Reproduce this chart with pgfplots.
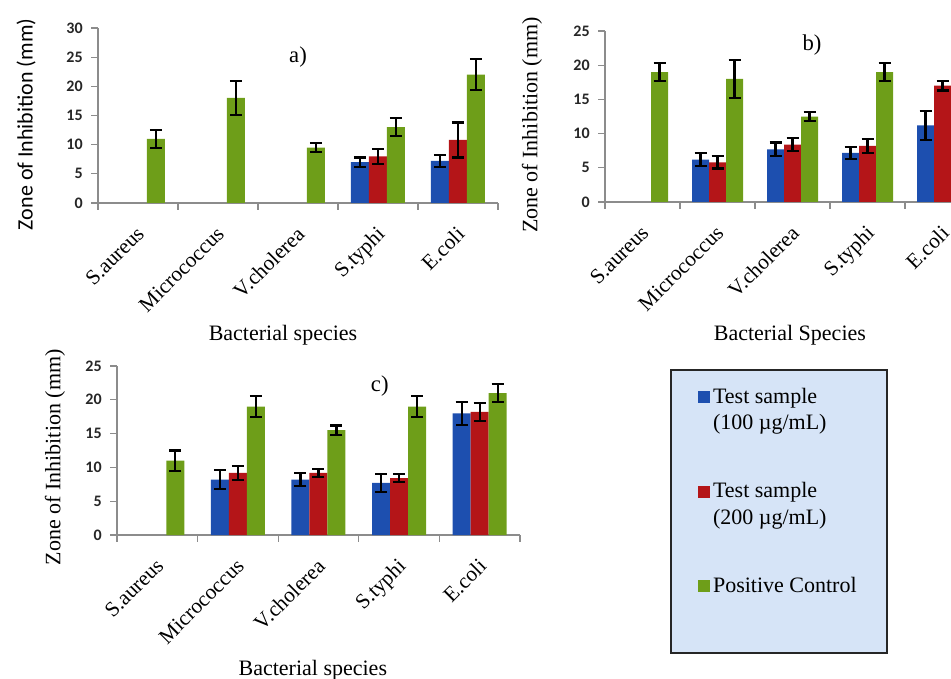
\documentclass[border=0pt]{standalone}
\usepackage{fontspec}
\setmainfont{Liberation Serif}
\newfontfamily\calibri{Carlito}
\usepackage{pgfplots}
\pgfplotsset{compat=1.18}
\definecolor{cblue}{HTML}{1D4FAF}
\definecolor{cred}{HTML}{B41518}
\definecolor{cgreen}{HTML}{6E9E19}
\definecolor{legbg}{HTML}{D6E4F7}
\definecolor{axgray}{HTML}{8C8C8C}
\pgfplotsset{
  ybar legend/.style={/pgfplots/legend image code/.code={\fill[##1] (0pt,0pt) rectangle (9pt,9pt);}},
  zoi/.style={
    scale only axis,
    ybar=0pt,
    ymin=0,
    xmin=-0.5, xmax=4.5,
    axis lines*=left,
    axis line style={draw=axgray, line width=0.9pt},
    tick align=outside,
    tick style={draw=axgray, line width=0.9pt},
    major tick length=5pt,
    xtick={-0.5,0.5,...,4.5},
    xticklabels={},
    extra x ticks={0,1,2,3,4},
    extra x tick labels={S.aureus,Micrococcus,V.cholerea,S.typhi,E.coli},
    extra x tick style={major tick length=0pt, tick style={draw=none}},
    xticklabel style={yshift=-15pt, xshift=-2pt, rotate=45, anchor=north east, font=\fontsize{16}{18}\selectfont, inner sep=1pt},
    yticklabel style={font=\calibri\bfseries\fontsize{12}{14}\selectfont, text=black!85, xshift=-3pt},
    /pgf/number format/assume math mode=true,
    label style={font=\fontsize{16.5}{19}\selectfont},
    clip=false,
  },
  eb/.style={error bars/.cd, y dir=both, y explicit,
    error bar style={black, line width=1.6pt},
    error mark options={rotate=90, black, mark size=4.5pt, line width=1.6pt}},
}
\begin{document}
\begin{tikzpicture}
\clip (0,0) rectangle (713.25pt,509.25pt);
% ---------------- a)
\begin{axis}[zoi, at={(73.5pt,357pt)}, anchor=south west,
  width=300pt, height=131.25pt, ymax=30, ytick={0,5,...,30}, bar width=13.5pt,
  xlabel={Bacterial species}, ylabel={Zone of Inhibition (mm)},
  xlabel style={at={(axis description cs:0.4625,-0.755)}, anchor=center},
  ylabel style={at={(axis description cs:-0.18,0.45)}, anchor=center, font=\calibri\fontsize{16.5}{19}\selectfont}]
\addplot[fill=cblue, draw=none, eb] coordinates {(3,7) +- (0,0.8) (4,7.2) +- (0,1)};
\addplot[fill=cred, draw=none, eb] coordinates {(3,8) +- (0,1.3) (4,10.8) +- (0,3)};
\addplot[fill=cgreen, draw=none, eb] coordinates {(0,11) +- (0,1.5) (1,18) +- (0,2.9) (2,9.5) +- (0,0.8) (3,13) +- (0,1.5) (4,22) +- (0,2.7)};
\node[font=\fontsize{17}{20}\selectfont] at (axis cs:2,25) {a)};
\end{axis}
% ---------------- b)
\begin{axis}[zoi, at={(453.75pt,357.75pt)}, anchor=south west,
  width=281.25pt, height=128.25pt, ymax=25, ytick={0,5,...,25}, bar width=12.75pt,
  xlabel={Bacterial Species}, ylabel={Zone of Inhibition (mm)},
  xlabel style={at={(axis description cs:0.493,-0.78)}, anchor=center},
  ylabel style={at={(axis description cs:-0.195,0.45)}, anchor=center}]
\addplot[fill=cblue, draw=none, eb] coordinates {(1,6.2) +- (0,1) (2,7.7) +- (0,1) (3,7.2) +- (0,0.9) (4,11.2) +- (0,2.1)};
\addplot[fill=cred, draw=none, eb] coordinates {(1,5.8) +- (0,0.9) (2,8.4) +- (0,1) (3,8.2) +- (0,1) (4,17) +- (0,0.7)};
\addplot[fill=cgreen, draw=none, eb] coordinates {(0,19) +- (0,1.3) (1,18) +- (0,2.8) (2,12.5) +- (0,0.7) (3,19) +- (0,1.3) (4,19) +- (0,1.5)};
\node[font=\fontsize{17}{20}\selectfont] at (axis cs:2.26,23) {b)};
\end{axis}
% ---------------- legend box
\filldraw[fill=legbg, draw=black!85, line width=1.2pt] (503.25pt,19.5pt) rectangle (665.25pt,231.75pt);
% ---------------- c)
\begin{axis}[zoi, at={(87.75pt,108pt)}, anchor=south west,
  width=302.25pt, height=126.75pt, ymax=25, ytick={0,5,...,25}, bar width=13.5pt,
  xlabel={Bacterial species}, ylabel={Zone of Inhibition (mm)},
  xlabel style={at={(axis description cs:0.486,-0.80)}, anchor=center},
  ylabel style={at={(axis description cs:-0.154,0.46)}, anchor=center},
  legend style={at={(1.442,0.888)}, anchor=north west, draw=none, fill=none,
    font=\fontsize{16.5}{20}\selectfont, cells={anchor=base west}, row sep=54pt, inner sep=0pt}]
\addplot[fill=cblue, draw=none, eb] coordinates {(1,8.2) +- (0,1.4) (2,8.2) +- (0,1) (3,7.7) +- (0,1.3) (4,18) +- (0,1.7)};
\addplot[fill=cred, draw=none, eb] coordinates {(1,9.2) +- (0,1) (2,9.2) +- (0,0.6) (3,8.4) +- (0,0.6) (4,18.2) +- (0,1.3)};
\addplot[fill=cgreen, draw=none, eb] coordinates {(0,11) +- (0,1.5) (1,19) +- (0,1.5) (2,15.5) +- (0,0.7) (3,19) +- (0,1.5) (4,21) +- (0,1.3)};
\node[font=\fontsize{17}{20}\selectfont] at (axis cs:2.76,22) {c)};
\legend{{\vtop{\hbox{Test sample}\hbox{(100 µg/mL)}}},{\vtop{\hbox{Test sample}\hbox{(200 µg/mL)}}},{Positive Control}}
\end{axis}
\end{tikzpicture}
\end{document}
